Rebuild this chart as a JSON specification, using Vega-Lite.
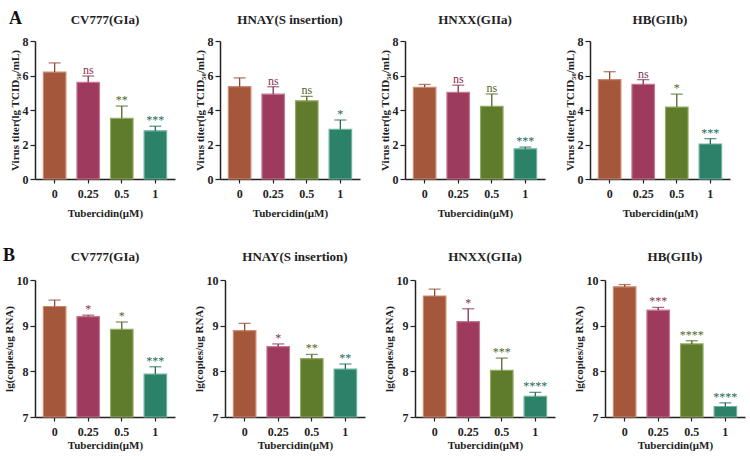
{
  "$schema": "https://vega.github.io/schema/vega-lite/v6.json",
  "background": "white",
  "padding": {"left": 3, "top": 10, "right": 2, "bottom": 2},
  "config": {
    "font": "Liberation Serif",
    "view": {"stroke": null},
    "axis": {"domainColor": "#222", "domainWidth": 1.5, "tickColor": "#222", "tickWidth": 1.2, "labelFont": "Liberation Serif", "labelFontWeight": "bold", "labelFontSize": 12, "labelColor": "#222", "titleFont": "Liberation Serif", "titleFontWeight": "bold", "titleFontSize": 11, "titleColor": "#222", "grid": false},
    "axisY": {"labelOverlap": false, "labelFlush": false, "labelBound": false},
    "header": {"labelFont": "Liberation Serif", "labelFontWeight": "bold", "labelFontSize": 13, "labelColor": "#222"},
    "title": {"font": "Liberation Serif", "fontWeight": "bold", "fontSize": 18, "color": "#111", "anchor": "start", "frame": "bounds"}
  },
  "datasets": {
    "A": [
      {"virus": "CV777(GIa)", "dose": "0", "mean": 6.2, "err": 6.73, "sig": ""},
      {"virus": "CV777(GIa)", "dose": "0.25", "mean": 5.6, "err": 5.97, "sig": "ns"},
      {"virus": "CV777(GIa)", "dose": "0.5", "mean": 3.52, "err": 4.23, "sig": "**"},
      {"virus": "CV777(GIa)", "dose": "1", "mean": 2.79, "err": 3.06, "sig": "***"},
      {"virus": "HNAY(S insertion)", "dose": "0", "mean": 5.35, "err": 5.86, "sig": ""},
      {"virus": "HNAY(S insertion)", "dose": "0.25", "mean": 4.92, "err": 5.35, "sig": "ns"},
      {"virus": "HNAY(S insertion)", "dose": "0.5", "mean": 4.53, "err": 4.79, "sig": "ns"},
      {"virus": "HNAY(S insertion)", "dose": "1", "mean": 2.88, "err": 3.42, "sig": "*"},
      {"virus": "HNXX(GIIa)", "dose": "0", "mean": 5.31, "err": 5.48, "sig": ""},
      {"virus": "HNXX(GIIa)", "dose": "0.25", "mean": 5.02, "err": 5.44, "sig": "ns"},
      {"virus": "HNXX(GIIa)", "dose": "0.5", "mean": 4.21, "err": 4.93, "sig": "ns"},
      {"virus": "HNXX(GIIa)", "dose": "1", "mean": 1.75, "err": 1.85, "sig": "***"},
      {"virus": "HB(GIIb)", "dose": "0", "mean": 5.76, "err": 6.22, "sig": ""},
      {"virus": "HB(GIIb)", "dose": "0.25", "mean": 5.48, "err": 5.76, "sig": "ns"},
      {"virus": "HB(GIIb)", "dose": "0.5", "mean": 4.17, "err": 4.92, "sig": "*"},
      {"virus": "HB(GIIb)", "dose": "1", "mean": 2.03, "err": 2.34, "sig": "***"}
    ],
    "B": [
      {"virus": "CV777(GIa)", "dose": "0", "mean": 9.42, "err": 9.56, "sig": ""},
      {"virus": "CV777(GIa)", "dose": "0.25", "mean": 9.2, "err": 9.23, "sig": "*"},
      {"virus": "CV777(GIa)", "dose": "0.5", "mean": 8.92, "err": 9.08, "sig": "*"},
      {"virus": "CV777(GIa)", "dose": "1", "mean": 7.94, "err": 8.1, "sig": "***"},
      {"virus": "HNAY(S insertion)", "dose": "0", "mean": 8.89, "err": 9.05, "sig": ""},
      {"virus": "HNAY(S insertion)", "dose": "0.25", "mean": 8.54, "err": 8.6, "sig": "*"},
      {"virus": "HNAY(S insertion)", "dose": "0.5", "mean": 8.28, "err": 8.37, "sig": "**"},
      {"virus": "HNAY(S insertion)", "dose": "1", "mean": 8.05, "err": 8.16, "sig": "**"},
      {"virus": "HNXX(GIIa)", "dose": "0", "mean": 9.65, "err": 9.8, "sig": ""},
      {"virus": "HNXX(GIIa)", "dose": "0.25", "mean": 9.09, "err": 9.37, "sig": "*"},
      {"virus": "HNXX(GIIa)", "dose": "0.5", "mean": 8.02, "err": 8.29, "sig": "***"},
      {"virus": "HNXX(GIIa)", "dose": "1", "mean": 7.45, "err": 7.54, "sig": "****"},
      {"virus": "HB(GIIb)", "dose": "0", "mean": 9.85, "err": 9.9, "sig": ""},
      {"virus": "HB(GIIb)", "dose": "0.25", "mean": 9.34, "err": 9.4, "sig": "***"},
      {"virus": "HB(GIIb)", "dose": "0.5", "mean": 8.6, "err": 8.67, "sig": "****"},
      {"virus": "HB(GIIb)", "dose": "1", "mean": 7.23, "err": 7.31, "sig": "****"}
    ]
  },
  "vconcat": [
    {
      "title": {"text": "A", "offset": -14},
      "data": {"name": "A"},
      "facet": {"column": {"field": "virus", "type": "nominal", "sort": ["CV777(GIa)", "HNAY(S insertion)", "HNXX(GIIa)", "HB(GIIb)"], "header": {"title": null, "labelPadding": 8}}},
      "spacing": 18,
      "resolve": {"axis": {"y": "independent", "x": "independent"}},
      "spec": {
        "width": 140,
        "height": 138,
        "encoding": {
          "x": {"field": "dose", "type": "ordinal", "sort": ["0", "0.25", "0.5", "1"], "scale": {"paddingInner": 0.33, "paddingOuter": 0.25}, "axis": {"title": "Tubercidin(μM)", "labelAngle": 0, "labelPadding": 5, "titlePadding": 8, "tickSize": 4}}
        },
        "layer": [
          {
            "mark": {"type": "bar", "strokeWidth": 1.2},
            "encoding": {
              "y": {"field": "mean", "type": "quantitative", "scale": {"domain": [0, 8], "nice": false}, "axis": {"title": "Virus titer(lg TCID₅₀/mL)", "values": [0, 2, 4, 6, 8], "tickSize": 5, "titlePadding": 2, "labelPadding": 2, "labelOverlap": false}},
              "fill": {"field": "dose", "type": "nominal", "legend": null, "scale": {"domain": ["0", "0.25", "0.5", "1"], "range": ["#a5573c", "#9e3a5e", "#5f7b2c", "#2b8268"]}},
              "stroke": {"field": "dose", "type": "nominal", "legend": null, "scale": {"domain": ["0", "0.25", "0.5", "1"], "range": ["#c98a70", "#c47790", "#93aa62", "#6fb39c"]}}
            }
          },
          {
            "mark": {"type": "rule", "strokeWidth": 1.3},
            "encoding": {
              "y": {"field": "mean", "type": "quantitative", "axis": {"labelOverlap": false, "values": [0, 2, 4, 6, 8]}},
              "y2": {"field": "err"},
              "color": {"field": "dose", "type": "nominal", "legend": null, "scale": {"domain": ["0", "0.25", "0.5", "1"], "range": ["#8f4730", "#86304f", "#4e6724", "#226a57"]}}
            }
          },
          {
            "mark": {"type": "tick", "thickness": 1.3, "size": 12},
            "encoding": {
              "y": {"field": "err", "type": "quantitative", "axis": {"labelOverlap": false, "values": [0, 2, 4, 6, 8]}},
              "color": {"field": "dose", "type": "nominal", "legend": null}
            }
          },
          {
            "mark": {"type": "text", "baseline": "bottom", "dy": 1, "fontSize": 12, "font": "Liberation Serif"},
            "encoding": {
              "y": {"field": "err", "type": "quantitative", "axis": {"labelOverlap": false, "values": [0, 2, 4, 6, 8]}},
              "text": {"field": "sig"},
              "color": {"field": "dose", "type": "nominal", "legend": null}
            }
          }
        ]
      }
    },
    {
      "title": {"text": "B", "offset": -14},
      "data": {"name": "B"},
      "facet": {"column": {"field": "virus", "type": "nominal", "sort": ["CV777(GIa)", "HNAY(S insertion)", "HNXX(GIIa)", "HB(GIIb)"], "header": {"title": null, "labelPadding": 8}}},
      "spacing": 18,
      "resolve": {"axis": {"y": "independent", "x": "independent"}},
      "spec": {
        "width": 140,
        "height": 137,
        "encoding": {
          "x": {"field": "dose", "type": "ordinal", "sort": ["0", "0.25", "0.5", "1"], "scale": {"paddingInner": 0.33, "paddingOuter": 0.25}, "axis": {"title": "Tubercidin(μM)", "labelAngle": 0, "labelPadding": 5, "titlePadding": 2, "tickSize": 4}}
        },
        "layer": [
          {
            "mark": {"type": "bar", "strokeWidth": 1.2},
            "encoding": {
              "y": {"field": "mean", "type": "quantitative", "scale": {"domain": [7, 10], "zero": false}, "axis": {"title": "lg(copies/ug RNA)", "values": [7, 8, 9, 10], "tickSize": 5, "titlePadding": 2, "labelPadding": 2, "labelOverlap": false}},
              "y2": {"datum": 7},
              "fill": {"field": "dose", "type": "nominal", "legend": null, "scale": {"domain": ["0", "0.25", "0.5", "1"], "range": ["#a5573c", "#9e3a5e", "#5f7b2c", "#2b8268"]}},
              "stroke": {"field": "dose", "type": "nominal", "legend": null, "scale": {"domain": ["0", "0.25", "0.5", "1"], "range": ["#c98a70", "#c47790", "#93aa62", "#6fb39c"]}}
            }
          },
          {
            "mark": {"type": "rule", "strokeWidth": 1.3},
            "encoding": {
              "y": {"field": "mean", "type": "quantitative", "axis": {"labelOverlap": false, "values": [7, 8, 9, 10]}},
              "y2": {"field": "err"},
              "color": {"field": "dose", "type": "nominal", "legend": null, "scale": {"domain": ["0", "0.25", "0.5", "1"], "range": ["#8f4730", "#86304f", "#4e6724", "#226a57"]}}
            }
          },
          {
            "mark": {"type": "tick", "thickness": 1.3, "size": 12},
            "encoding": {
              "y": {"field": "err", "type": "quantitative", "axis": {"labelOverlap": false, "values": [7, 8, 9, 10]}},
              "color": {"field": "dose", "type": "nominal", "legend": null}
            }
          },
          {
            "mark": {"type": "text", "baseline": "bottom", "dy": 1, "fontSize": 12, "font": "Liberation Serif"},
            "encoding": {
              "y": {"field": "err", "type": "quantitative", "axis": {"labelOverlap": false, "values": [7, 8, 9, 10]}},
              "text": {"field": "sig"},
              "color": {"field": "dose", "type": "nominal", "legend": null}
            }
          }
        ]
      }
    }
  ],
  "spacing": 29
}
